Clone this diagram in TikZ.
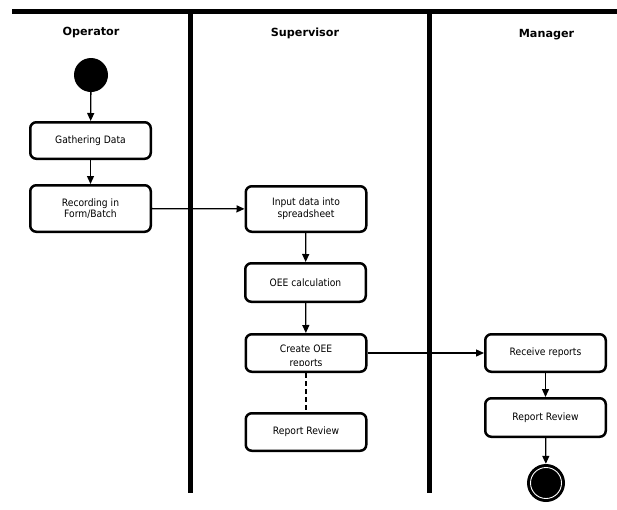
\documentclass[tikz,border=0pt]{standalone}
\usepackage{fontspec}
\newfontfamily\bodyf{DejaVu Sans}[FakeStretch=0.9]
\newfontfamily\headf{DejaVu Sans}
\usetikzlibrary{arrows.meta}
\tikzset{
  lane/.style={line width=5pt},
  head/.style={font=\headf\bfseries\fontsize{11.2}{13}\selectfont, inner sep=0pt},
  actbox/.style={draw, line width=2.5pt, rounded corners=6pt, fill=white,
    minimum width=120.5pt, inner sep=0pt, align=center,
    font=\bodyf\fontsize{10.2}{11.8}\selectfont},
  txt/.style={inner sep=0pt, anchor=base, font=\bodyf\fontsize{10.2}{11.8}\selectfont},
  flow/.style={line width=1.3pt, -{Triangle[length=8pt,width=7pt]}},
  link/.style={line width=1.3pt, dashed, dash pattern=on 5pt off 3pt},
}
\begin{document}
\begin{tikzpicture}[x=1pt,y=-1pt]
\useasboundingbox (0,0) rectangle (617,509);
% swimlane frame
\coordinate (tl) at (12,11.5);
\coordinate (tr) at (617,11.5);
\coordinate (l1t) at (190,9);
\coordinate (l1b) at (190,493);
\coordinate (l2t) at (429,9);
\coordinate (l2b) at (429,493);
\draw[lane] (tl) -- (tr);
\draw[lane] (l1t) -- (l1b);
\draw[lane] (l2t) -- (l2b);
% headers
\node[head] (hop) at (91,33) {Operator};
\node[head] (hsu) at (305,33) {Supervisor};
\node[head] (hma) at (546.5,35) {Manager};
% start
\node[circle, fill=black, minimum size=34pt, inner sep=0pt] (start) at (91,75) {};
% operator boxes
\node[actbox, minimum height=36.5pt] (gather) at (90.5,140.5) {Gathering Data};
\node[actbox, minimum height=46.5pt] (record) at (90.5,208.5) {Recording in\\Form/Batch};
% supervisor boxes
\node[actbox, minimum height=45.5pt] (input) at (306,209) {Input data into\\spreadsheet};
\node[actbox, minimum height=38.5pt] (oee) at (305.5,282.5) {OEE calculation};
\node[actbox, minimum height=37.5pt] (create) at (306,353) {};
\begin{scope}
  \clip (247,335) rectangle (365,365);
  \node[txt] (createtxt1) at (306,352.7) {Create OEE};
  \node[txt] (createtxt2) at (306,366) {reports};
\end{scope}
\node[actbox, minimum height=37.5pt] (review1) at (306,432) {Report Review};
% manager boxes
\node[actbox, minimum height=37.5pt] (receive) at (545.5,353) {Receive reports};
\node[actbox, minimum height=38.5pt] (review2) at (545.5,417.5) {Report Review};
% end
\node[circle, fill=black, minimum size=38pt, inner sep=0pt] (end) at (546,483) {};
\node[circle, draw=white, line width=0.9pt, minimum size=31pt, inner sep=0pt] (endring) at (546,483) {};
% connectors
\draw[flow] (start) -- (gather);
\draw[flow] (gather) -- (record);
\draw[flow] (record) -- (input);
\draw[flow] (input) -- (oee);
\draw[flow] (oee) -- (create);
\draw[link] (create) -- (review1);
\draw[flow] (create) -- (receive);
\draw[flow] (receive) -- (review2);
\draw[flow] (review2) -- (end);
\end{tikzpicture}
\end{document}
